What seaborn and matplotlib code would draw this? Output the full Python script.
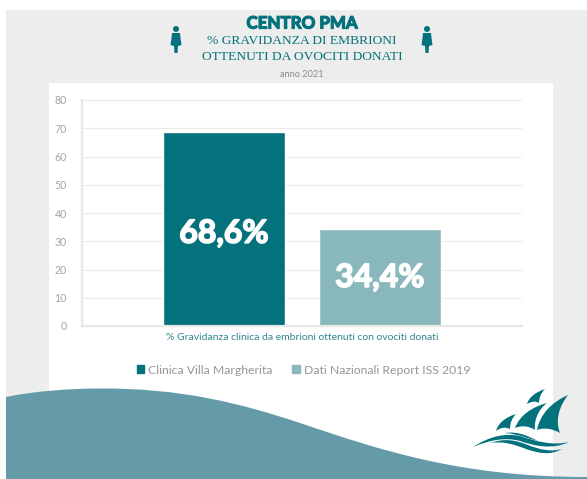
import pandas as pd
import seaborn as sns
import matplotlib.pyplot as plt
import matplotlib.patheffects as pe
from matplotlib.patches import Polygon, Rectangle, Circle, PathPatch
from matplotlib.path import Path

categories = ['% Gravidanza clinica da embrioni ottenuti con ovociti donati']
series = ['Clinica Villa Margherita', 'Dati Nazionali Report ISS 2019']
villa = [68.6]
iss = [34.4]
value_labels = ['68,6%', '34,4%']
y_ticks = [0, 10, 20, 30, 40, 50, 60, 70, 80]

TEAL = '#04727d'
LIGHT = '#88b7bc'
WAVE = '#659ba8'
W, H = 587, 479

df = pd.DataFrame({'cat': categories * 2, 'serie': series, 'val': villa + iss})

sns.set_theme(style='white')
plt.rcParams['font.family'] = ['Lato', 'DejaVu Sans']

fig = plt.figure(figsize=(W / 100, H / 100), dpi=100, facecolor='white')


def curve(ax, start, segs, color):
    # closed shape from cubic segments, each seg is (ctrl1, ctrl2, end)
    verts = [start]
    codes = [Path.MOVETO]
    for seg in segs:
        verts += list(seg)
        codes += [Path.CURVE4] * 3
    verts.append(start)
    codes.append(Path.CLOSEPOLY)
    ax.add_patch(PathPatch(Path(verts, codes), facecolor=color, lw=0))


# background layer in pixel coords
bg = fig.add_axes([0, 0, 1, 1], zorder=0)
bg.set_xlim(0, W)
bg.set_ylim(H, 0)
bg.axis('off')
bg.add_patch(Rectangle((6, 10), 581, 469, color='#ededed', lw=0))
bg.add_patch(Rectangle((49, 83), 504, 396, color='white', lw=0))

# big wave at the bottom
curve(bg, (6, 397), [((35, 391), (70, 388.5), (100, 388.5)),
                     ((180, 388), (240, 403), (300, 423)),
                     ((380, 450), (460, 477), (587, 477)),
                     ((587, 478), (587, 479), (587, 479)),
                     ((400, 479), (200, 479), (6, 479))], WAVE)

# logo
curve(bg, (545, 389), [((536, 392), (529, 397), (527, 404)),
                       ((532, 401), (536, 401), (539, 403)),
                       ((539, 398), (541, 393), (545, 389))], TEAL)
curve(bg, (568, 395), [((552, 402), (540, 414), (537, 430)),
                       ((545, 427), (553, 429), (560, 433)),
                       ((555, 420), (559, 407), (568, 395))], TEAL)
curve(bg, (547, 403), [((532, 407), (520, 415), (515, 428)),
                       ((522, 425), (529, 426), (535, 430)),
                       ((534, 420), (538, 410), (547, 403))], TEAL)
curve(bg, (516, 414), [((506, 417), (498, 423), (496, 431)),
                       ((501, 427), (506, 427), (510, 429)),
                       ((510, 423), (512, 418), (516, 414))], TEAL)
curve(bg, (473, 447), [((490, 436), (505, 433), (520, 436)),
                       ((535, 441), (552, 446), (569, 442)),
                       ((552, 450), (535, 446), (520, 441)),
                       ((505, 437), (490, 440), (473, 447))], TEAL)
curve(bg, (490, 443), [((505, 438), (515, 440), (528, 445)),
                       ((540, 450), (552, 452), (562, 449)),
                       ((550, 456), (538, 453), (526, 449)),
                       ((513, 444), (503, 441), (490, 443))], TEAL)
curve(bg, (505, 433), [((518, 431), (528, 436), (538, 441)),
                       ((530, 439), (518, 434), (505, 433)),
                       ((505, 433), (505, 433), (505, 433))], TEAL)

# women icons
for cx in [176, 427]:
    bg.add_patch(Circle((cx, 29), 3, color=TEAL, lw=0))
    bg.add_patch(Polygon([(cx - 4, 33), (cx + 4, 33), (cx + 4.5, 38), (cx + 5.5, 45), (cx + 2, 46), (cx + 1.5, 53),
                          (cx - 1.5, 53), (cx - 2, 46), (cx - 5.5, 45), (cx - 4.5, 38)], color=TEAL, lw=0))

# titles
bg.text(302, 23.5, 'CENTRO PMA', color=TEAL, fontsize=12.2, fontweight='bold', ha='center', va='center',
        path_effects=[pe.withStroke(linewidth=0.9, foreground=TEAL)])
bg.text(302, 41, '% GRAVIDANZA DI EMBRIONI', color=TEAL, fontsize=9.7, family='Liberation Serif', ha='center', va='center')
bg.text(302, 57, 'OTTENUTI DA OVOCITI DONATI', color=TEAL, fontsize=9.7, family='Liberation Serif', ha='center', va='center')
bg.text(302, 74, 'anno 2021', color='#8a8a8a', fontsize=6.6, ha='center', va='center')

# chart
ax = fig.add_axes([82 / W, 1 - 326 / H, 440 / W, 226 / H], zorder=1)
ax.patch.set_alpha(0)
sns.barplot(data=df, x='cat', y='val', hue='serie', hue_order=series, palette=[TEAL, LIGHT],
            width=0.709, gap=0.218, saturation=1, ax=ax, legend=False)
ax.set_xlim(-0.5, 0.5)
ax.set_ylim(0, 80)
ax.set_yticks(y_ticks)
ax.set_xlabel('')
ax.set_ylabel('')
ax.set_xticks([0])
ax.set_xticklabels(categories, color='#2f8790', fontsize=7.5)
ax.tick_params(axis='y', labelsize=7.6, labelcolor='#a3a3a3', length=0, pad=11)
ax.tick_params(axis='x', length=0, pad=5)
ax.grid(axis='y', color='#ebebeb', lw=0.8)
ax.set_axisbelow(True)
for s in ['top', 'right']:
    ax.spines[s].set_visible(False)
for s in ['left', 'bottom']:
    ax.spines[s].set_color('#e8e8e8')
    ax.spines[s].set_linewidth(1.6)

for bar, lab, dy in zip(ax.patches, value_labels, [-3, 0]):
    ax.annotate(lab, (bar.get_x() + bar.get_width() / 2, bar.get_height() / 2), xytext=(0, dy),
                textcoords='offset points', color='white', fontsize=23, fontweight='bold', ha='center', va='center',
                path_effects=[pe.withStroke(linewidth=1.2, foreground='white')])

handles = [Rectangle((0, 0), 1, 1, color=c) for c in [TEAL, LIGHT]]
fig.legend(handles, series, loc='center', bbox_to_anchor=(303.5 / W, 1 - 370 / H), ncol=2, frameon=False,
           fontsize=8.8, labelcolor='#969696', handlelength=0.6, handleheight=0.6, handletextpad=0.35, columnspacing=1.6)

fig.savefig('out.png', dpi=100)
